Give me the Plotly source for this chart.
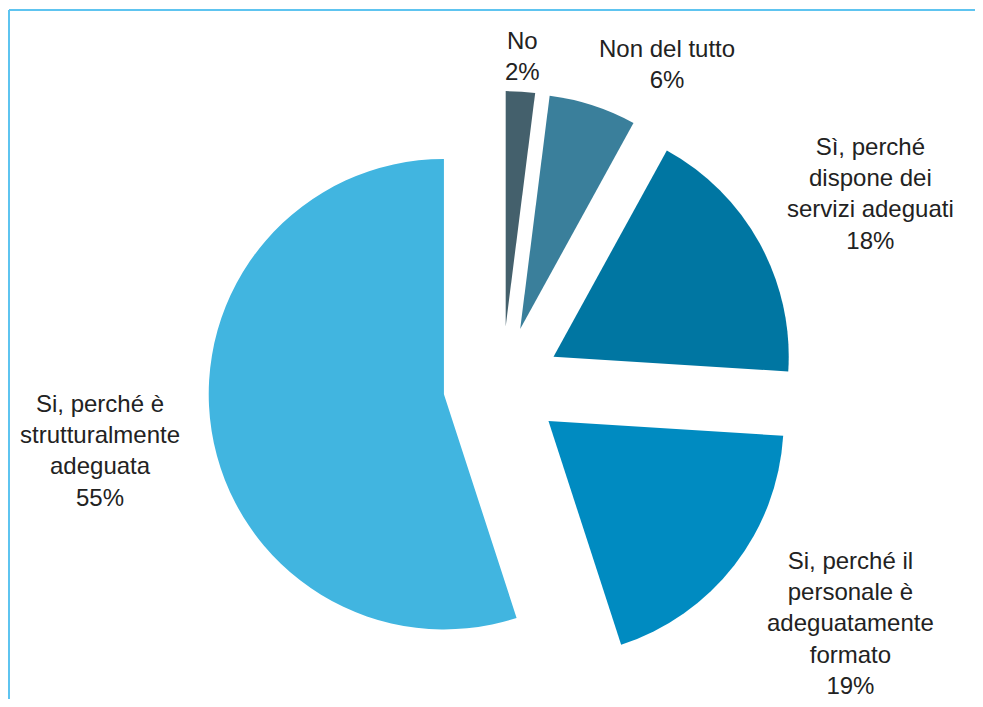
import plotly.graph_objects as go

labels = [
    "No",
    "Non del tutto",
    "Sì, perché<br>dispone dei<br>servizi adeguati",
    "Si, perché il<br>personale è<br>adeguatamente<br>formato",
    "Si, perché è<br>strutturalmente<br>adeguata",
]
values = [2, 6, 18, 19, 55]
colors = ["#44606c", "#3a7f9b", "#0076a2", "#008bc1", "#41b5e0"]
pulls = [0.25, 0.25, 0.25, 0.25, 0.25]

# the html body has an 8px margin on every side; keep the figure inside the window
OFF = 8
W, H = 983 - 2 * OFF, 707 - 2 * OFF
M = dict(l=21, r=0, t=83, b=20)
PW, PH = W - M["l"] - M["r"], H - M["t"] - M["b"]


def px(x, y):
    # screen pixel position -> paper coords
    return (x - OFF - M["l"]) / PW, 1 - (y - OFF - M["t"]) / PH


# label centres in screen pixels
label_pos = [(522, 56), (667, 64), (870, 193), (850, 623), (100, 450)]

fig = go.Figure(go.Pie(
    labels=labels,
    values=values,
    sort=False,
    direction="clockwise",
    rotation=0,
    pull=pulls,
    marker=dict(colors=colors, line=dict(width=0)),
    textinfo="none",
    showlegend=False,
))

annotations = []
for lab, v, (x, y) in zip(labels, values, label_pos):
    xp, yp = px(x, y)
    annotations.append(dict(
        x=xp, y=yp, xref="paper", yref="paper",
        text=f"{lab}<br>{v}%", showarrow=False,
        xanchor="center", yanchor="middle", align="center",
        font=dict(size=24, color="#222222", family="Liberation Sans, Arial, sans-serif"),
    ))

x0, y_top = px(9, 10)
x_right, _ = px(OFF + W, 10)
_, y_bot = px(9, OFF + H)
shapes = [
    dict(type="line", xref="paper", yref="paper", x0=x0, y0=y_top, x1=x_right, y1=y_top,
         line=dict(color="#5ec4f0", width=2)),
    dict(type="line", xref="paper", yref="paper", x0=x0, y0=y_top, x1=x0, y1=y_bot,
         line=dict(color="#5ec4f0", width=2)),
]

fig.update_layout(
    width=W, height=H,
    margin=M,
    paper_bgcolor="white",
    plot_bgcolor="white",
    annotations=annotations,
    shapes=shapes,
)

fig.write_html("out.html")
